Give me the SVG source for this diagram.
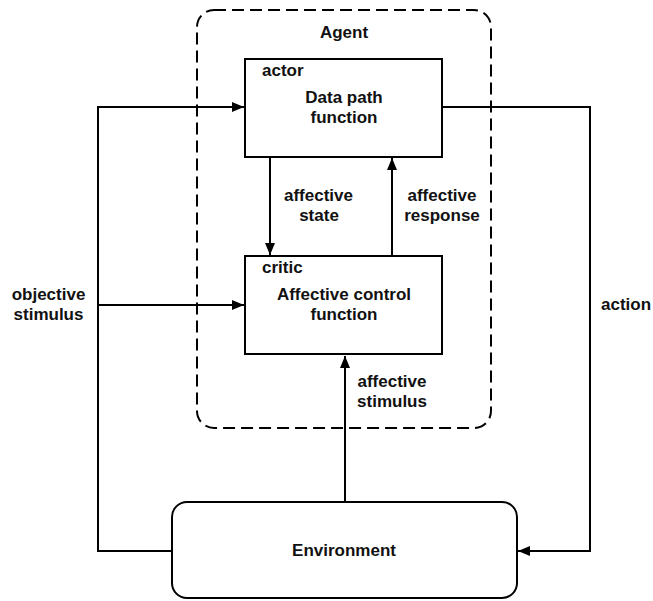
<svg xmlns="http://www.w3.org/2000/svg" width="653" height="601" viewBox="0 0 653 601">
<defs>
<style>
.t{font-family:"Liberation Sans",Arial,sans-serif;font-weight:bold;font-size:17px;fill:#111}
.c{text-anchor:middle}
.box{fill:#fff;stroke:#000;stroke-width:2}
.ln{fill:none;stroke:#000;stroke-width:2}
</style>
<marker id="ah" viewBox="0 0 12 10" refX="12" refY="5" markerWidth="12" markerHeight="10" markerUnits="userSpaceOnUse" orient="auto">
<path d="M0,0 L12,5 L0,10 z" fill="#000"/>
</marker>
</defs>
<rect width="653" height="601" fill="#fff"/>
<g id="agent">
<rect x="197" y="10" width="294" height="418" rx="17" ry="17" fill="none" stroke="#000" stroke-width="2" stroke-dasharray="12 6"/>
<text class="t c" x="344" y="38">Agent</text>
</g>
<g id="connectors">
<polyline class="ln" points="172,551 98,551 98,107 244,107" marker-end="url(#ah)"/>
<line class="ln" x1="98" y1="305" x2="244" y2="305" marker-end="url(#ah)"/>
<polyline class="ln" points="443,107 590,107 590,551 518,551" marker-end="url(#ah)"/>
<line class="ln" x1="270" y1="157" x2="270" y2="255" marker-end="url(#ah)"/>
<line class="ln" x1="392" y1="256" x2="392" y2="158" marker-end="url(#ah)"/>
<line class="ln" x1="345" y1="502" x2="345" y2="356" marker-end="url(#ah)"/>
<text class="t c" x="318.5" y="201">affective</text>
<text class="t c" x="319" y="221">state</text>
<text class="t c" x="442" y="201">affective</text>
<text class="t c" x="442" y="221">response</text>
<text class="t c" x="392" y="387">affective</text>
<text class="t c" x="392" y="407">stimulus</text>
<text class="t c" x="48.5" y="300">objective</text>
<text class="t c" x="48.5" y="320">stimulus</text>
<text class="t" x="601" y="310">action</text>
</g>
<g id="actor">
<rect class="box" x="245" y="59" width="197" height="98"/>
<text class="t" x="262" y="76">actor</text>
<text class="t c" x="344" y="103">Data path</text>
<text class="t c" x="344" y="123">function</text>
</g>
<g id="critic">
<rect class="box" x="245" y="256" width="197" height="98"/>
<text class="t" x="262" y="273">critic</text>
<text class="t c" x="344" y="300">Affective control</text>
<text class="t c" x="344" y="320">function</text>
</g>
<g id="environment">
<rect class="box" x="172" y="502" width="345" height="96" rx="15" ry="15"/>
<text class="t c" x="344" y="556">Environment</text>
</g>
</svg>
